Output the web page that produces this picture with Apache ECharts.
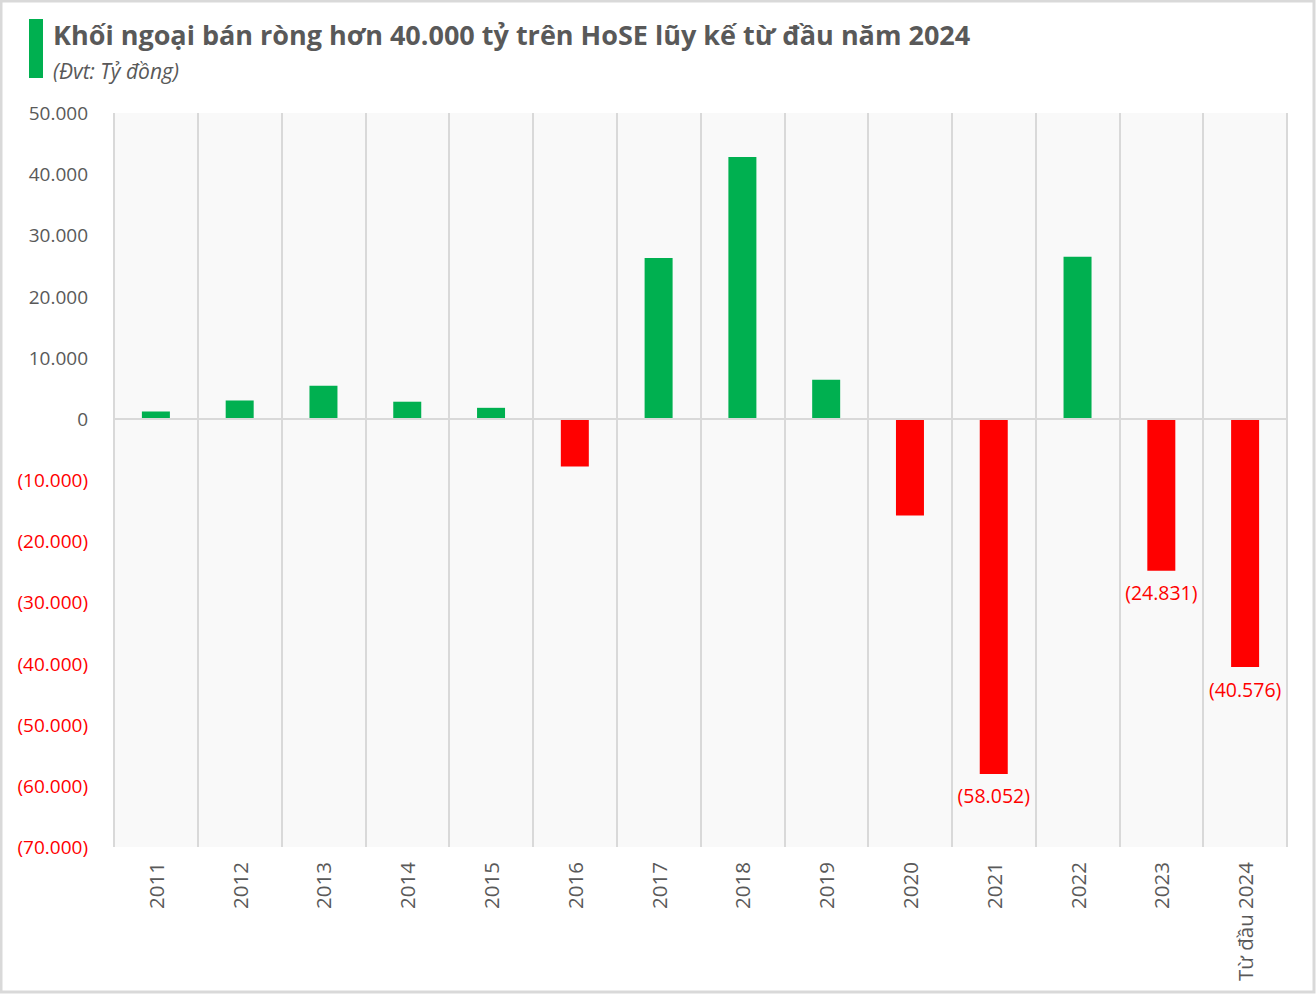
<!DOCTYPE html>
<html>
<head>
<meta charset="utf-8">
<script src="https://cdn.jsdelivr.net/npm/echarts@6/dist/echarts.min.js"></script>
<style>
html,body{margin:0;padding:0;background:#fff;}
#chart{width:1316px;height:994px;}
</style>
</head>
<body>
<div id="chart"></div>
<script>
// ---- Data ----
const categories = ['2011','2012','2013','2014','2015','2016','2017','2018','2019','2020','2021','2022','2023','Từ đầu 2024'];
const netValues = [1200, 3000, 5400, 2800, 1800, -7800, 26300, 42800, 6400, -15800, -58052, 26500, -24831, -40576];
const labelledCategories = ['2021','2023','Từ đầu 2024'];
const titleText = 'Khối ngoại bán ròng hơn 40.000 tỷ trên HoSE lũy kế từ đầu năm 2024';
const subtitleText = '(Đvt: Tỷ đồng)';
const yMin = -70000, yMax = 50000, yStep = 10000;

const GREEN = '#00B050', RED = '#FF0000', GREY = '#595959';
const FONT = '"Open Sans", "Noto Sans", sans-serif';

function fmtNum(v){
  const a = Math.abs(v);
  const s = String(Math.round(a)).replace(/\B(?=(\d{3})+(?!\d))/g, '.');
  return v < 0 ? '(' + s + ')' : s;
}

const chart = echarts.init(document.getElementById('chart'), null, {renderer:'svg'});
chart.setOption({
  backgroundColor:'#ffffff',
  animation:false,
  title:[
    {text:titleText, left:48, top:16, padding:5, textStyle:{fontFamily:FONT, fontSize:27, fontWeight:'bold', color:GREY}},
    {text:subtitleText, left:48, top:55, padding:5, textStyle:{fontFamily:FONT, fontSize:21, fontStyle:'italic', fontWeight:'normal', color:GREY}}
  ],
  graphic:[
    {type:'rect', shape:{x:29, y:19, width:14, height:59}, style:{fill:GREEN}},
    {type:'rect', shape:{x:1, y:1, width:1313, height:991}, style:{fill:'none', stroke:'#d9d9d9', lineWidth:3}, z:100}
  ],
  grid:{left:114, right:29, top:113, bottom:147, show:true, backgroundColor:'#f9f9f9', borderWidth:0},
  xAxis:{
    type:'category', data:categories, boundaryGap:true,
    axisLine:{show:false, onZero:false}, axisTick:{show:false},
    splitLine:{show:true, lineStyle:{color:'#d9d9d9', width:2}},
    axisLabel:{rotate:90, margin:15, fontFamily:FONT, fontSize:20.5, color:GREY, interval:0}
  },
  yAxis:{
    type:'value', min:yMin, max:yMax, interval:yStep,
    axisLine:{show:false}, axisTick:{show:false}, splitLine:{show:false},
    axisLabel:{margin:26, fontFamily:FONT, fontSize:19, verticalAlign:'middle', padding:[0,0,2,0],
      color:function(v){ return Number(v) < 0 ? RED : GREY; },
      formatter:function(v){ return fmtNum(v); }}
  },
  series:[{
    type:'bar', barWidth:28,
    data:netValues.map((v,i)=>({
      value:v,
      itemStyle:{color: v < 0 ? RED : GREEN},
      label:{show: labelledCategories.indexOf(categories[i]) >= 0}
    })),
    label:{position:'bottom', distance:12, fontFamily:FONT, fontSize:19.5, color:RED,
      formatter:function(p){ return fmtNum(p.value); }},
    markLine:{silent:true, symbol:'none', label:{show:false},
      lineStyle:{color:'#d9d9d9', width:2, type:'solid'},
      data:[{yAxis:0}]}
  }]
});
</script>
</body>
</html>
